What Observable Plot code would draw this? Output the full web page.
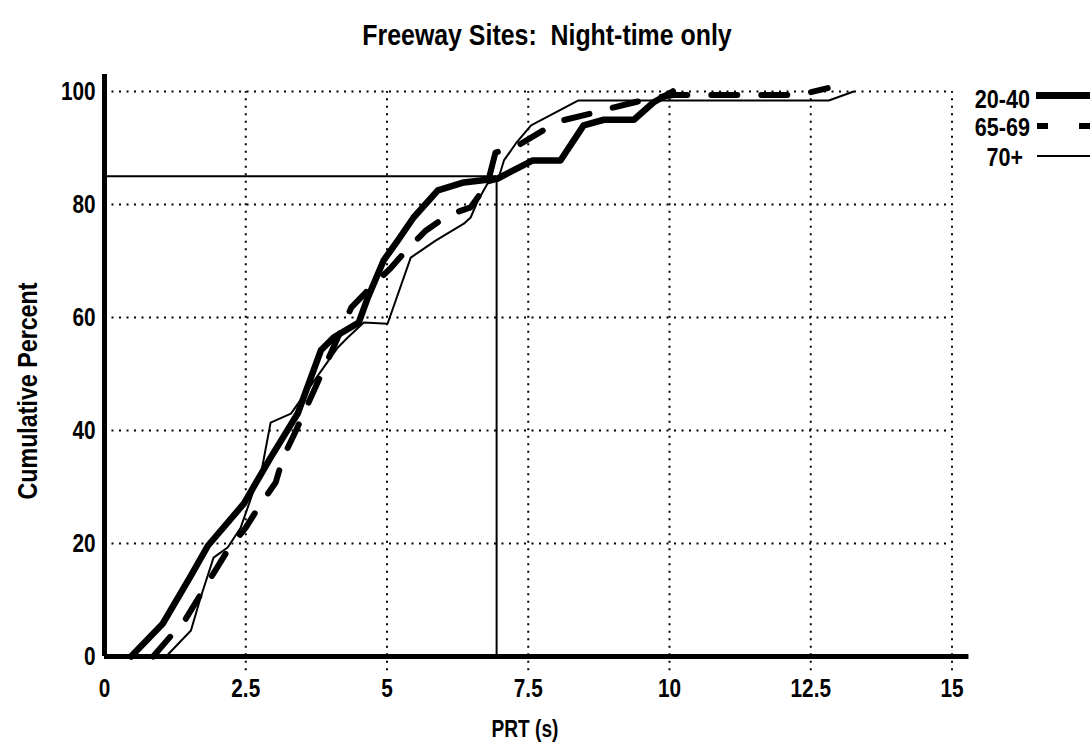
<!DOCTYPE html>
<html><head><meta charset="utf-8">
<script src="https://cdn.jsdelivr.net/npm/d3@7"></script>
<script src="https://cdn.jsdelivr.net/npm/@observablehq/plot@0.6"></script>
<style>
body{margin:0;background:#fff;}
#wrap{position:relative;width:1090px;height:747px;font-family:"Liberation Sans",Arial,sans-serif;font-weight:bold;color:#000;overflow:hidden;}
#wrap svg{position:absolute;left:0;top:0;}
.t{position:absolute;white-space:pre;line-height:1;}
.ln{position:absolute;background:#000;}
</style></head><body><div id="wrap"></div>
<script>
const title = "Freeway Sites:  Night-time only";
const xLabel = "PRT (s)";
const yLabel = "Cumulative Percent";
const groups = ["20-40", "65-69", "70+"];

const prt2040 = [0.47,1.03,1.53,1.83,2.47,2.94,3.42,3.83,4.06,4.5,4.66,4.94,5.19,5.47,5.9,6.36,6.96,7.58,8.07,8.48,8.84,9.37,9.72,10.06];
const pct2040 = [0,5.8,14.3,19.6,27.1,35.2,43,54.2,56.5,59.1,63.5,70.1,73.6,77.7,82.5,83.9,84.6,87.8,87.8,94,95,95,98.1,100];

const prt6569 = [0.86,1.44,1.94,2.2,2.5,2.77,3.03,3.16,3.39,4.37,4.66,5.07,5.37,5.69,6.08,6.48,6.78,6.92,7.31,7.76,8.11,8.61,9.02,9.67,10.1,12.3,12.8];
const pct6569 = [0,6.7,14.9,19.1,22.8,27.1,30.8,35.2,40,61.8,64.8,68.8,72.2,75.4,78.1,79.5,83.7,89.2,90.4,93.1,94.9,96.1,97.2,98.8,99.4,99.4,100.6];

const prt70 = [1.09,1.53,1.70,1.93,2.18,2.41,2.62,2.77,2.94,3.30,4.13,4.31,4.59,5.01,5.42,5.86,6.36,6.48,6.61,6.78,6.96,7.07,7.28,7.55,8.38,12.82,13.26];
const pct70 = [0,4.6,10.4,17.5,19.3,22.8,28.8,32.4,41.4,43,54.7,56.5,59.1,58.9,70.6,73.6,76.6,77.7,80.7,83.7,84.2,87.8,90.8,94,98.4,98.4,100];

const xTicks = [0, 2.5, 5, 7.5, 10, 12.5, 15];
const xTickLabels = ["0", "2.5", "5", "7.5", "10", "12.5", "15"];
const yTicks = [0, 20, 40, 60, 80, 100];
const refPct = 85;
const refPRT = 6.94;

const series = {"20-40": [prt2040, pct2040], "65-69": [prt6569, pct6569], "70+": [prt70, pct70]};
const rows = [];
for (const g of groups) {
  const [xs, ys] = series[g];
  xs.forEach((x, i) => rows.push({group: g, prt: x, pct: ys[i]}));
}
const sel = g => rows.filter(r => r.group === g);
const FONT = '"Liberation Sans",Arial,sans-serif';
const SQ = 0.83; // horizontal squeeze to mimic a condensed face
const dotted = {stroke: "#000", strokeWidth: 2, strokeDasharray: "2,5.5"};

const chart = Plot.plot({
  width: 1090, height: 747,
  marginTop: 91, marginBottom: 91, marginLeft: 104, marginRight: 138.5,
  x: {domain: [0, 15]},
  y: {domain: [0, 100]},
  style: {fontFamily: FONT, fontWeight: "bold", fontSize: "25px", background: "transparent", color: "#000"},
  marks: [
    Plot.ruleY(yTicks.filter(d => d > 0), {x1: 0, x2: 15, ...dotted}),
    Plot.ruleX(xTicks.filter(d => d > 0), {y1: -2.5, y2: 100, ...dotted}),
    Plot.axisY(yTicks, {tickSize: 0, tickPadding: 9, fontSize: 25, label: null, tickFormat: d => String(d)}),
    Plot.axisX(xTicks, {tickSize: 0, tickPadding: 23, fontSize: 25, label: null, tickFormat: d => xTickLabels[xTicks.indexOf(d)]}),
    Plot.ruleY([refPct], {x1: 0, x2: refPRT, stroke: "#000", strokeWidth: 2}),
    Plot.ruleX([refPRT], {y1: 0, y2: refPct, stroke: "#000", strokeWidth: 2}),
    Plot.line(sel("70+"), {x: "prt", y: "pct", stroke: "#000", strokeWidth: 2}),
    Plot.line(sel("65-69"), {x: "prt", y: "pct", stroke: "#000", strokeWidth: 6, strokeDasharray: "26,24"}),
    Plot.line(sel("20-40"), {x: "prt", y: "pct", stroke: "#000", strokeWidth: 6.5, strokeLinejoin: "round"}),
    Plot.ruleX([0], {y1: 0, y2: 103, stroke: "#000", strokeWidth: 5}),
    Plot.ruleY([0], {x1: 0, x2: 15.3, stroke: "#000", strokeWidth: 5})
  ]
});

// squeeze axis text horizontally around each label's anchor
d3.select(chart).selectAll("text").each(function () {
  const t = this.getAttribute("transform");
  if (t) this.setAttribute("transform", t + ` scale(${SQ},1)`);
  else {
    const x = +this.getAttribute("x") || 0, y = +this.getAttribute("y") || 0;
    this.setAttribute("transform", `translate(${x},${y}) scale(${SQ},1) translate(${-x},${-y})`);
  }
});

const wrap = document.getElementById("wrap");
wrap.appendChild(chart);

function addText(txt, fs, left, top, w, align, extraTransform) {
  const d = document.createElement("div");
  d.className = "t";
  d.textContent = txt;
  d.style.fontSize = fs + "px";
  d.style.left = left + "px";
  d.style.top = top + "px";
  d.style.width = w + "px";
  d.style.textAlign = align;
  d.style.transformOrigin = (align === "right" ? "100%" : "50%") + " 50%";
  d.style.transform = (extraTransform || "") + ` scaleX(${SQ})`;
  wrap.appendChild(d);
  return d;
}
function addLine(left, top, w, h) {
  const d = document.createElement("div");
  d.className = "ln";
  Object.assign(d.style, {left: left + "px", top: top + "px", width: w + "px", height: h + "px"});
  wrap.appendChild(d);
}
// title
addText(title, 30, 247, 20, 600, "center");
// x label
addText(xLabel, 23, 425, 718, 200, "center");
// y label (rotated)
addText(yLabel, 28, 28 - 150, 391 - 14, 300, "center", "rotate(-90deg)");

// legend
addText(groups[0], 26, 930, 99 - 13, 100, "right");
addLine(1036, 92, 60, 7);
addText(groups[1], 26, 930, 127 - 13, 100, "right");
addLine(1037, 123, 11, 6);
addLine(1079, 123, 15, 6);
addText(groups[2], 26, 923, 157 - 13, 100, "right");
addLine(1037, 155, 56, 2);
</script></body></html>
